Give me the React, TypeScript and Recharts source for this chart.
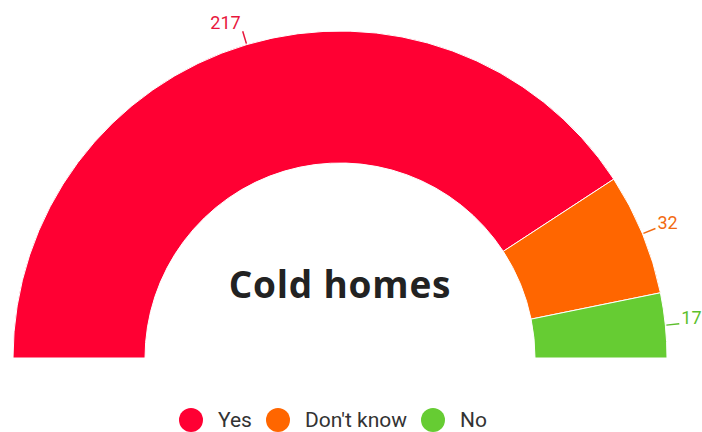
import { PieChart, Pie, Cell } from "recharts";

const categories = ["Yes", "Don't know", "No"];
const counts = [217, 32, 17];
const colors = ["#ff0033", "#ff6600", "#66cc33"];
const labelColors = ["#e8163c", "#f26a10", "#5cbf2c"];

const data = categories.map((name, i) => ({ name, value: counts[i] }));

const RAD = Math.PI / 180;

function renderLabel(props: any) {
  const { cx, cy, midAngle, outerRadius, value, index } = props;
  const cos = Math.cos(-midAngle * RAD);
  const sin = Math.sin(-midAngle * RAD);
  const x1 = cx + (outerRadius + 1) * cos;
  const y1 = cy + (outerRadius + 1) * sin;
  const x2 = cx + (outerRadius + 14) * cos;
  const y2 = cy + (outerRadius + 14) * sin;
  const left = cos < 0;
  const tx = x2 + (left ? -2 : 2);
  const ty = y2 + (left ? -9 : -6);
  const c = labelColors[index];
  return (
    <g key={`lbl-${index}`}>
      <line x1={x1} y1={y1} x2={x2} y2={y2} stroke={c} strokeWidth={1.5} />
      <text x={tx} y={ty} fill={c} fontSize={18} fontFamily="Roboto, 'Liberation Sans', sans-serif" textAnchor={left ? "end" : "start"} dominantBaseline="central">
        {value}
      </text>
    </g>
  );
}

export default function App() {
  return (
    <div style={{ position: "absolute", left: 0, top: 0, width: 702, height: 432, background: "#fff", overflow: "hidden" }}>
      <PieChart width={702} height={432} margin={{ top: 0, right: 0, bottom: 0, left: 0 }}>
        <Pie
          data={data}
          dataKey="value"
          nameKey="name"
          cx={340}
          cy={358}
          innerRadius={195}
          outerRadius={327}
          startAngle={180}
          endAngle={0}
          stroke="#ffffff"
          strokeWidth={1}
          label={renderLabel}
          labelLine={false}
          isAnimationActive={false}
        >
          {data.map((d, i) => (
            <Cell key={d.name} fill={colors[i]} />
          ))}
        </Pie>
        <text x={340} y={283} textAnchor="middle" dominantBaseline="central" fontSize={37} fontWeight={700} letterSpacing={0.8} fill="#222222" fontFamily="'Open Sans', sans-serif">
          Cold homes
        </text>
      </PieChart>
      <div style={{ position: "absolute", top: 408, left: 0, width: 680, height: 24, display: "flex", justifyContent: "center", alignItems: "center", fontFamily: "Roboto, 'Liberation Sans', sans-serif", fontSize: 21, lineHeight: "24px", color: "#333" }}>
        {categories.map((c, i) => (
          <div key={c} style={{ display: "flex", alignItems: "center", marginRight: 14 }}>
            <span style={{ width: 24, height: 24, borderRadius: "50%", background: colors[i], display: "inline-block", marginRight: 15 }} />
            <span>{c}</span>
          </div>
        ))}
      </div>
    </div>
  );
}
